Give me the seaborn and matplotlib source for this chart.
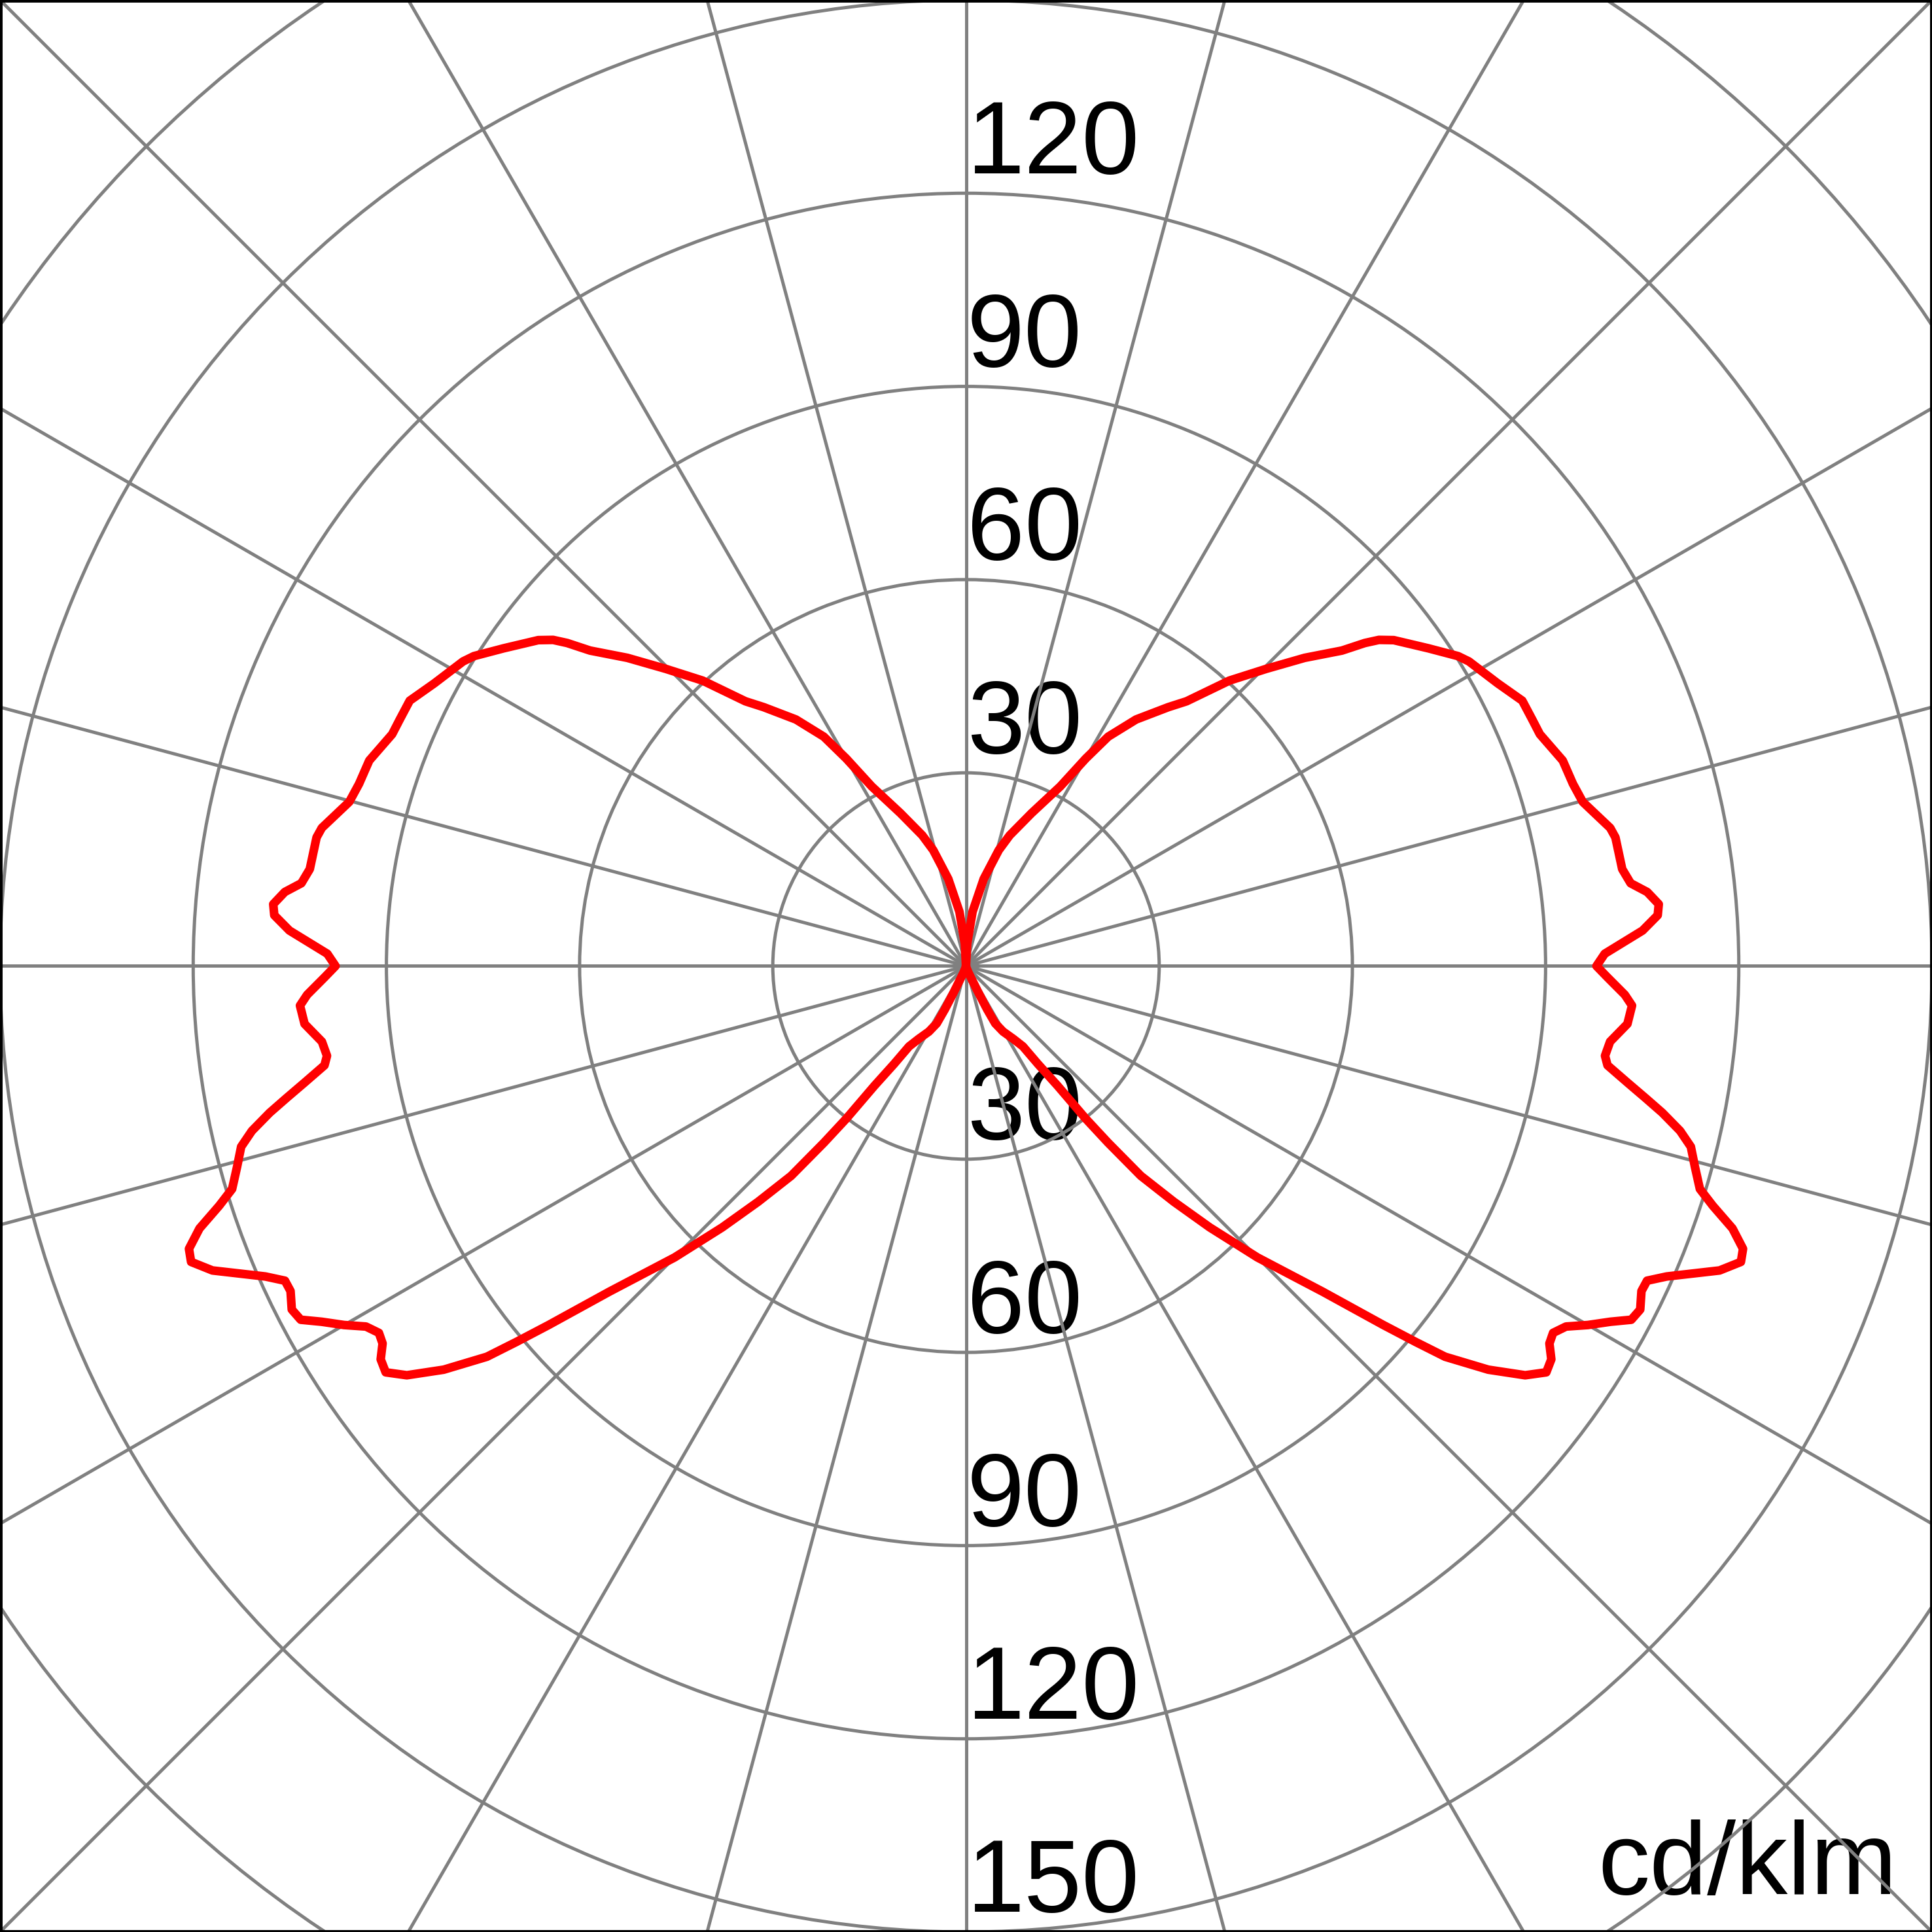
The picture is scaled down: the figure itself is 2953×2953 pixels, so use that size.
import numpy as np
import pandas as pd
import matplotlib
matplotlib.use("Agg")
import matplotlib.pyplot as plt
from matplotlib.patches import Rectangle
import seaborn as sns

# luminous intensity distribution, gamma measured from nadir (0 = down, 180 = up)
gamma = [0, 5, 10, 15, 20, 23, 25, 26, 27, 29.5, 33, 35.3, 36.3, 37.4, 38.1, 38.8,
         39.8, 41.4, 43, 45, 47.6, 49.3, 50.1, 50.8, 52.3, 53.8, 55, 56.1, 57.1, 58,
         59, 60, 61.1, 62, 63, 64.3, 65.2, 66.1, 68, 69.1, 70, 71.1, 72.2, 73.1, 74.6,
         76, 77, 78.1, 79, 80, 81.2, 82, 83.3, 85, 86.6, 87.5, 89, 90, 91.1, 93, 94.2,
         95.1, 96.2, 97.1, 98.4, 101.2, 102.1, 104.9, 106.7, 109, 112, 113.5, 115.5,
         118, 121.2, 122.2, 124.5, 127.3, 128.3, 129, 130, 132.3, 134.7, 137.3, 140.2,
         142, 145.4, 148.2, 150, 152.3, 156.8, 161.5, 164.2, 168.5, 173.1, 177, 180]
intensity = [0, 0, 0, 0.3, 1, 2, 4.5, 7.5, 10, 11.7, 13.5, 15.3, 18.9, 23.4, 30.1, 35.2,
             42.4, 48.8, 55.5, 64, 75, 85.5, 91, 96, 102.5, 107.6, 110, 109.5, 107.9, 107.5,
             108.7, 111.5, 114.3, 117, 117.5, 116.4, 116.5, 119, 126.2, 128.8, 128.4, 125.8, 121.8, 119.1, 117.4,
             116, 113.8, 110.5, 107.5, 104.3, 100.8, 100.2, 100.7, 103.1, 103.6, 102.4, 99.6, 97.9, 99.2, 105.2, 107.7,
             108, 106.4, 104, 103, 102.8, 102.3, 99.1, 98.4, 98, 96.1, 95.9, 95.7,
             93.5, 91.3, 90.3, 87.1, 83.5, 81.7, 79.7, 76.2, 71.1, 65.6, 60.3, 53.5,
             51, 46.5, 41.9, 37.2, 31.5, 25.8, 21.4, 18.7, 13.8, 8.5, 3.5, 0]

ring_values = [30, 60, 90, 120, 150, 180]
upper_labels = [30, 60, 90, 120]
lower_labels = [30, 60, 90, 120, 150]
unit_label = "cd/klm"

sns.set_theme(style="white")
plt.rcParams["font.family"] = ["Liberation Sans", "DejaVu Sans"]

g = np.radians(np.array(gamma))
cd = np.array(intensity)
# right half (C0) then mirrored left half (C180) so the curve closes
df = pd.DataFrame({
    "theta": np.concatenate([g, -g[::-1]]),
    "cd": np.concatenate([cd, cd[::-1]]),
})

rmax = 215
half_view = 150  # the square picture spans -150..150
size = rmax / half_view
fig = plt.figure(figsize=(29.53, 29.53), dpi=100)
ax = fig.add_axes([(1 - size) / 2, (1 - size) / 2, size, size], projection="polar")
ax.set_theta_zero_location("S")
ax.patch.set_alpha(0)

sns.lineplot(data=df, x="theta", y="cd", sort=False, estimator=None,
             color="#ff0000", linewidth=9.5, ax=ax, zorder=3,
             solid_joinstyle="round", solid_capstyle="round")

ax.set_ylim(0, rmax)
ax.set_yticks(ring_values)
ax.set_xticks(np.radians(np.arange(0, 360, 15)))
ax.set_xticklabels([])
ax.set_yticklabels([])
ax.set_xlabel("")
ax.set_ylabel("")
ax.spines["polar"].set_visible(False)
ax.set_axisbelow(False)
ax.grid(True, color="#808080", linewidth=3.6)
ax.tick_params(length=0)

fs = 114
for v in upper_labels:
    ax.annotate(str(v), xy=(np.pi, v + 3.1), xytext=(1, 0), textcoords="offset points",
                ha="left", va="baseline", fontsize=fs, color="black", zorder=1)
for v in lower_labels:
    ax.annotate(str(v), xy=(0, v - 3.1), xytext=(1, 0), textcoords="offset points",
                ha="left", va="baseline", fontsize=fs, color="black", zorder=1)

ax.text(0.982, 0.0196, unit_label, transform=fig.transFigure, ha="right", va="baseline",
        fontsize=fs, color="black", zorder=1)

fig.add_artist(Rectangle((0, 0), 1, 1, transform=fig.transFigure, fill=False,
                         edgecolor="black", linewidth=5, zorder=10))

fig.savefig("out.png", dpi=100, facecolor="white")
